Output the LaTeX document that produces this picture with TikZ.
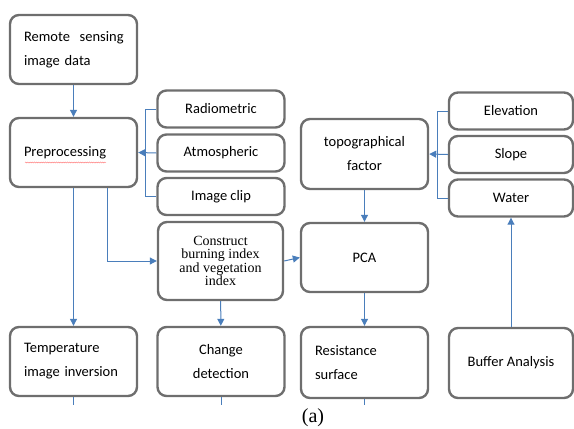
\documentclass[tikz,border=0pt]{standalone}
\usepackage{fontspec}
\setmainfont{Carlito}
\newfontfamily\timesfont{Liberation Serif}
\usetikzlibrary{arrows.meta,decorations.pathmorphing}

\definecolor{boxgray}{HTML}{6E6E6E}
\definecolor{linkblue}{HTML}{4A7EBB}

\begin{document}
\begin{tikzpicture}
		[x=1pt,y=-1pt,
		step box/.style= {draw=boxgray,line width=2.4pt,rounded corners=9pt,inner sep=0pt,
			font=\fontsize{14.5}{24}\selectfont,align=center},
		big/.style= {step box,minimum width=127pt,minimum height=69pt},
		small/.style= {step box,minimum width=127pt,minimum height=37pt},
		lefttext/.style= {text width=99pt,align=left},
		link/.style={draw=linkblue,line width=1pt},
		arrow/.style={link,-{Triangle[length=7pt,width=7pt]}}]

		\useasboundingbox (0,0) rectangle (574,429);

		% left column
		\node[big,lefttext] (rs) at (73.5,49.5) {\mbox{Remote\ \ sensing}\\image data};
		\node[big,lefttext] (pre) at (73.5,152.5) {Preprocessing};
		\node[big,lefttext] (temp) at (73.5,361.5) {Temperature\\image inversion};

		% preprocessing steps
		\node[small] (rad) at (221,109) {Radiometric};
		\node[small] (atm) at (221,153) {Atmospheric};
		\node[small] (clip) at (221,196.5) {Image clip};
		\node[big,minimum height=78pt,minimum width=125pt,
			font=\timesfont\fontsize{14}{13.5}\selectfont] (cons) at (220.5,261)
			{Construct\\burning index\\and vegetation\\index};
		\node[big] (chg) at (221,361.5) {Change\\detection};

		% terrain column
		\node[big,minimum height=70pt] (topo) at (364.5,154) {topographical\\factor};
		\node[big] (pca) at (364.5,257.5) {PCA};
		\node[big,minimum height=71pt,lefttext] (res) at (364.5,362.5) {Resistance\\surface};

		% factors
		\node[small,minimum width=124pt] (elev) at (511,111) {Elevation};
		\node[small,minimum width=124pt] (slope) at (511,154.5) {Slope};
		\node[small,minimum width=124pt] (water) at (511,198) {Water};
		\node[big,minimum width=124pt,minimum height=70pt] (buf) at (511,363) {Buffer Analysis};

		\node[font=\timesfont\fontsize{20}{20}\selectfont] (cap) at (313,418) {(a)};

		% spell-check mark
		\draw[red!55,line width=0.4pt,decorate,
			decoration={snake,amplitude=0.5pt,segment length=2.2pt}]
			(25,162.5) -- (106,162.5);

		% connectors
		\draw[arrow] (rs) -- (pre);
		\draw[link] (rad.west) -- ++(-11,0) |- (clip.west);
		\draw[arrow] (atm.west) -- (pre.east);
		\draw[arrow] (pre) -- (temp);
		\draw[arrow] ([xshift=33.5pt]pre.south) |- (cons.west);
		\draw[arrow] (cons) -- (chg);
		\draw[arrow] (cons.east) -- (pca.west);
		\draw[link] (elev.west) -- ++(-10,0) |- (water.west);
		\draw[arrow] (slope.west) -- (topo.east);
		\draw[arrow] (topo) -- (pca);
		\draw[arrow] (pca) -- (res);
		\draw[arrow] (buf) -- (water);

		% lines running on below
		\coordinate (t1) at (73.5,405);
		\coordinate (t2) at (221,405);
		\coordinate (t3) at (364.5,405);
		\draw[link] (temp.south) -- (t1);
		\draw[link] (chg.south) -- (t2);
		\draw[link] (res.south) -- (t3);
	\end{tikzpicture}
\end{document}
